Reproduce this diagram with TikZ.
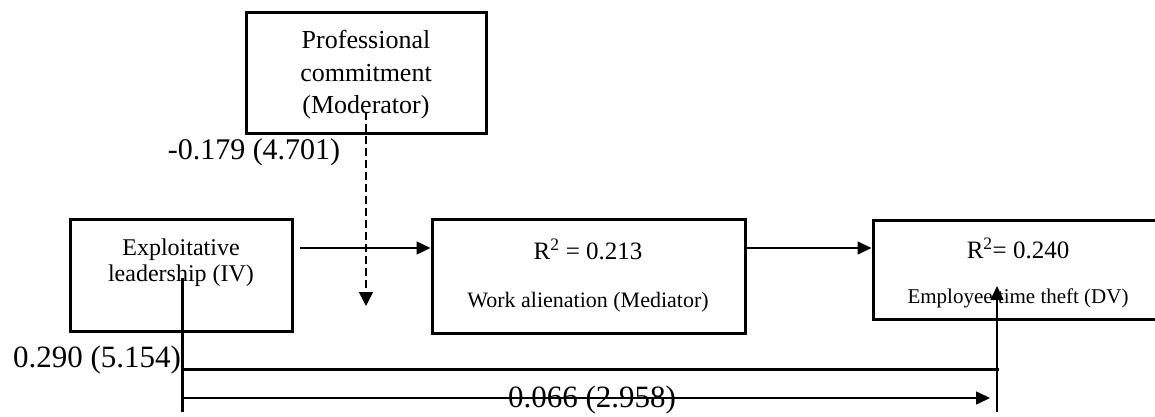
\documentclass[tikz,border=0pt]{standalone}
\usepackage{fontspec}
\setmainfont{Liberation Serif}
\usetikzlibrary{arrows.meta}
\tikzset{
  boxnode/.style={draw, rectangle, line width=3pt, inner sep=0pt},
  txt/.style={inner sep=0pt, align=center},
  thinarrow/.style={line width=1.5pt, -{Triangle[length=14pt,width=13pt]}},
  dasharrow/.style={line width=1.5pt, dash pattern=on 8pt off 4pt, -{Triangle[length=14pt,width=14pt]}},
  thickline/.style={line width=3pt},
  thinline/.style={line width=1.5pt}
}
\begin{document}
\begin{tikzpicture}[x=1pt,y=-1pt]
\useasboundingbox (0,0) rectangle (1155,417);
\clip (0,0) rectangle (1155,417);
\fill[white] (0,0) rectangle (1155,417);

% boxes
\node[boxnode, minimum width=240pt, minimum height=120pt] (mod) at (366,73) {};
\node[boxnode, minimum width=222pt, minimum height=112pt] (iv) at (181,275) {};
\node[boxnode, minimum width=313pt, minimum height=114pt] (med) at (588.5,276) {};
\node[boxnode, minimum width=290pt, minimum height=99pt] (dv) at (1018,269.5) {};

% box texts
\node[txt, font=\fontsize{26pt}{32.5pt}\selectfont] (modtxt) at (366,75) {Professional\\commitment\\(Moderator)};
\node[txt, font=\fontsize{24pt}{26pt}\selectfont] (ivtxt) at (181,263) {Exploitative\\leadership (IV)};
\node[txt, font=\fontsize{25pt}{30pt}\selectfont] (medr) at (588,249) {R\textsuperscript{2} = 0.213};
\node[txt, font=\fontsize{22pt}{26pt}\selectfont] (medtxt) at (588,302) {Work alienation (Mediator)};
\node[txt, font=\fontsize{25pt}{30pt}\selectfont] (dvr) at (1018,248) {R\textsuperscript{2}= 0.240};
\node[txt, font=\fontsize{21pt}{25pt}\selectfont] (dvtxt) at (1018,298) {Employee time theft (DV)};

% path labels
\node[txt, font=\fontsize{30pt}{34pt}\selectfont] (lmod) at (254,152) {-0.179 (4.701)};
\node[txt, font=\fontsize{31pt}{34pt}\selectfont] (ldir) at (97,360) {0.290 (5.154)};
\node[txt, font=\fontsize{31pt}{34pt}\selectfont] (lind) at (592,400) {0.066 (2.958)};

% coordinates
\coordinate (a1) at (300,248);
\coordinate (d1) at (366,112);
\coordinate (d2) at (366,306);
\coordinate (v1) at (182,278);
\coordinate (v2) at (182,412);
\coordinate (h1) at (182,369);
\coordinate (h2) at (999,369);
\coordinate (t1) at (182,398);
\coordinate (t2) at (990,398);
\coordinate (u1) at (997,412);
\coordinate (u2) at (997,286);

% connectors
\draw[thinarrow] (a1) -- (med.west |- a1);
\draw[thinarrow] (med.east |- a1) -- (dv.west |- a1);
\draw[dasharrow] (d1) -- (d2);
\draw[thickline] (v1) -- (v2);
\draw[thickline] (h1) -- (h2);
\draw[thinarrow] (t1) -- (t2);
\draw[thinarrow] (u1) -- (u2);
\end{tikzpicture}
\end{document}
